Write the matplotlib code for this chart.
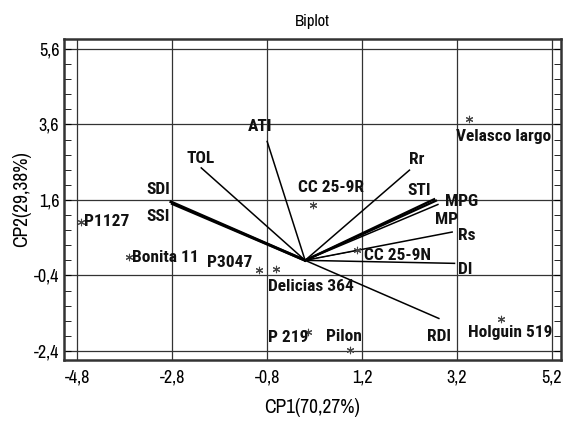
import matplotlib.pyplot as plt
from matplotlib.ticker import MultipleLocator, FuncFormatter
import logging
logging.getLogger('matplotlib.font_manager').setLevel(logging.ERROR)

# variable vectors (loadings, scaled)
var_names = ['ATI', 'TOL', 'SDI', 'SSI', 'Rr', 'STI', 'MPG', 'MP', 'Rs', 'DI', 'RDI', '']
var_x = [-0.80, -2.19, -2.83, -2.80, 2.20, 2.72, 2.76, 2.80, 3.10, 3.15, 2.82, 1.05]
var_y = [3.15, 2.45, 1.55, 1.50, 2.39, 1.62, 1.58, 1.48, 0.75, -0.08, -1.54, 0.25]
var_lw = [1.1, 1.1, 2.0, 2.0, 1.1, 1.6, 1.6, 1.1, 1.1, 1.1, 1.1, 0.6]
# label positions (data coords)
var_lx = [-1.21, -2.51, -3.34, -3.34, 2.2, 2.16, 2.94, 2.73, 3.23, 3.23, 2.58, 0]
var_ly = [3.55, 2.7, 1.87, 1.15, 2.68, 1.85, 1.55, 1.08, 0.67, -0.25, -2.03, 0]

# genotype scores
gen_names = ['Velasco largo', 'P1127', 'Bonita 11', 'P3047', 'Delicias 364', 'CC 25-9R',
             'CC 25-9N', 'Pilon', 'P 219', 'Holguin 519']
gen_x = [3.46, -4.73, -3.72, -0.98, -0.61, 0.16, 1.09, 0.95, 0.06, 4.12]
gen_y = [3.75, 1.02, 0.08, -0.26, -0.22, 1.46, 0.27, -2.38, -1.89, -1.55]
gen_lx = [3.19, -4.66, -3.66, -1.12, -0.79, -0.16, 1.25, 0.43, -0.79, 3.44]
gen_ly = [3.28, 1.02, 0.08, -0.06, -0.69, 1.92, 0.13, -2.03, -2.05, -1.92]
gen_ha = ['left', 'left', 'left', 'right', 'left', 'left', 'left', 'left', 'left', 'left']

bold_narrow = ['Roboto Condensed', 'PT Sans Narrow', 'Liberation Sans']
narrow = ['Archivo Narrow', 'Roboto Condensed', 'Liberation Sans']

fig = plt.figure(figsize=(5.63, 4.22), dpi=100)
ax = fig.add_axes([0.114, 0.147, 0.882, 0.761])

for i in range(len(var_names)):
    ax.plot([0, var_x[i]], [0, var_y[i]], color='black', lw=var_lw[i], zorder=3)
    if var_names[i]:
        ax.text(var_lx[i], var_ly[i], var_names[i], fontsize=12.5, fontweight='bold',
                family=bold_narrow, ha='left', va='center', color='#111111', zorder=4)

ax.scatter(gen_x, gen_y, marker=(6, 2, 0), s=22, color='#444444', lw=0.8, zorder=4)
for i in range(len(gen_names)):
    ax.text(gen_lx[i], gen_ly[i], gen_names[i], fontsize=12.5, fontweight='bold',
            family=bold_narrow, ha=gen_ha[i], va='center', color='#111111', zorder=4)

ax.set_xlim(-5.08, 5.39)
ax.set_ylim(-2.64, 5.87)
ax.set_xticks([-4.8, -2.8, -0.8, 1.2, 3.2, 5.2])
ax.set_yticks([-2.4, -0.4, 1.6, 3.6, 5.6])
ax.yaxis.set_minor_locator(MultipleLocator(0.4))
fmt = FuncFormatter(lambda v, p: ('%.1f' % v).replace('.', ','))
ax.xaxis.set_major_formatter(fmt)
ax.yaxis.set_major_formatter(fmt)
for lab in ax.get_xticklabels() + ax.get_yticklabels():
    lab.set_family(narrow)
ax.grid(True, which='major', color='#333333', lw=0.9)
ax.set_axisbelow(True)
ax.tick_params(axis='x', which='both', length=0, labelsize=13, pad=7)
ax.tick_params(axis='y', which='both', direction='in', left=True, right=True,
               labelsize=13, length=5)
for s in ax.spines.values():
    s.set_linewidth(1.8)
    s.set_color('#333333')

ax.set_xlabel('CP1(70,27%)', fontsize=14, family=narrow, labelpad=9)
ax.set_ylabel('CP2(29,38%)', fontsize=14, family=narrow, labelpad=2)
ax.set_title('Biplot', fontsize=12, family=narrow, pad=9)

fig.savefig('out.png', dpi=100)
